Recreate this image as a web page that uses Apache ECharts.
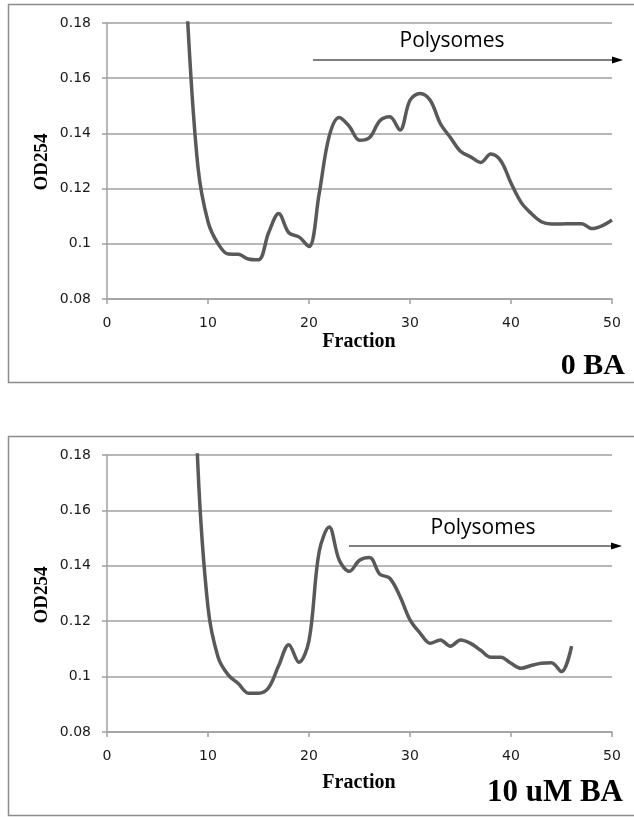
<!DOCTYPE html>
<html>
<head>
<meta charset="utf-8">
<script src="https://cdn.jsdelivr.net/npm/echarts@6/dist/echarts.min.js"></script>
<style>
  html, body { margin: 0; padding: 0; background: #fff; }
  #chart { width: 634px; height: 817px; }
</style>
</head>
<body>
<div id="chart"></div>
<script>
// fraction numbers and OD254 readings
const fractionsTop = [7, 8, 9, 10, 11, 12, 13, 14, 15, 16, 17, 18, 19, 20, 21, 22, 23, 24, 25, 26, 27, 28, 29, 30,
  31, 32, 33, 34, 35, 36, 37, 38, 39, 40, 41, 42, 43, 44, 45, 46, 47, 48, 49, 50]
const od0BA = [0.26, 0.180, 0.128, 0.108, 0.100, 0.0963, 0.0962, 0.0945, 0.0942, 0.104, 0.111, 0.104, 0.1025, 0.099,
  0.118, 0.139, 0.1458, 0.1425, 0.1375, 0.1385, 0.1445, 0.146, 0.1412, 0.152, 0.1545, 0.152, 0.1436, 0.1385, 0.1335,
  0.1315, 0.1295, 0.1325, 0.130, 0.122, 0.115, 0.111, 0.108, 0.1072, 0.1072, 0.1073, 0.1073, 0.1055, 0.1065, 0.1086]

const fractionsBottom = [8, 9, 10, 11, 12, 13, 14, 15, 16, 17, 18, 19, 20, 21, 22, 23, 24, 25, 26, 27, 28, 29, 30,
  31, 32, 33, 34, 35, 36, 37, 38, 39, 40, 41, 42, 43, 44, 45, 46]
const od10BA = [0.29, 0.176, 0.125, 0.107, 0.1006, 0.0975, 0.094, 0.094, 0.096, 0.104, 0.1115, 0.1052, 0.113, 0.145,
  0.154, 0.142, 0.138, 0.142, 0.143, 0.137, 0.1355, 0.129, 0.1205, 0.1157, 0.112, 0.1132, 0.111, 0.1132, 0.112,
  0.1095, 0.107, 0.107, 0.1048, 0.103, 0.104, 0.1048, 0.105, 0.1018, 0.111]

const xTicks = { min: 0, max: 50, step: 10 }
const yTicks = { min: 0.08, max: 0.18, step: 0.02 }

const serif = '"Liberation Serif", "DejaVu Serif", serif'
const sans = '"DejaVu Sans", sans-serif'

function pairs(xs, ys) { return xs.map((x, i) => [x, ys[i]]) }

function xAxis(gridIndex) {
  return {
    type: 'value', gridIndex,
    min: xTicks.min, max: xTicks.max, interval: xTicks.step,
    axisLine: { lineStyle: { color: '#a0a0a0', width: 1.5 } },
    axisTick: { show: true, length: 5, lineStyle: { color: '#a0a0a0', width: 1.5 } },
    axisLabel: { color: '#1a1a1a', fontSize: 14, fontFamily: sans, margin: 17 },
    splitLine: { show: false },
  }
}

function yAxis(gridIndex) {
  return {
    type: 'value', gridIndex,
    min: yTicks.min, max: yTicks.max, interval: yTicks.step,
    axisLine: { show: true, lineStyle: { color: '#a0a0a0', width: 1.5 } },
    axisTick: { show: true, length: 5, lineStyle: { color: '#a0a0a0', width: 1.5 } },
    axisLabel: { color: '#1a1a1a', fontSize: 14, fontFamily: sans, margin: 16,
      formatter: v => String(+v.toFixed(2)) },
    splitLine: { show: true, lineStyle: { color: '#a0a0a0', width: 1.5 } },
  }
}

function profile(idx, data) {
  return {
    type: 'line', xAxisIndex: idx, yAxisIndex: idx,
    data, smooth: 0.35, showSymbol: false, clip: true,
    lineStyle: { color: '#595959', width: 3.5 },
  }
}

function arrow(x1, x2, y) {
  return [
    { type: 'line', shape: { x1, y1: y, x2: x2 - 9, y2: y }, style: { stroke: '#000', lineWidth: 1.2 } },
    { type: 'polygon', shape: { points: [[x2 - 11, y - 3.5], [x2, y], [x2 - 11, y + 3.5]] }, style: { fill: '#000' } },
  ]
}

function label(text, x, y, font, size, opts = {}) {
  return {
    type: 'text', x, y, rotation: opts.rotation || 0,
    style: { text, font: `${opts.weight || 'bold'} ${size}px ${font}`, fill: '#000',
      align: opts.align || 'center', verticalAlign: 'middle' },
  }
}

const chart = echarts.init(document.getElementById('chart'))
chart.setOption({
  backgroundColor: '#fff',
  animation: false,
  grid: [
    { left: 107, right: 22, top: 23, height: 276 },
    { left: 107, right: 22, top: 455, height: 277 },
  ],
  xAxis: [xAxis(0), xAxis(1)],
  yAxis: [yAxis(0), yAxis(1)],
  series: [profile(0, pairs(fractionsTop, od0BA)), profile(1, pairs(fractionsBottom, od10BA))],
  graphic: [
    { type: 'rect', shape: { x: 8.5, y: 4.5, width: 640, height: 378 }, style: { fill: null, stroke: '#8c8c8c', lineWidth: 1.5 } },
    { type: 'rect', shape: { x: 8.5, y: 436.5, width: 640, height: 379 }, style: { fill: null, stroke: '#8c8c8c', lineWidth: 1.5 } },
    label('OD254', 42, 162, serif, 19, { rotation: Math.PI / 2 }),
    label('OD254', 42, 595, serif, 19, { rotation: Math.PI / 2 }),
    label('Fraction', 359, 342, serif, 20),
    label('Fraction', 359, 783, serif, 20),
    label('0 BA', 625, 366, serif, 30, { align: 'right' }),
    label('10 uM BA', 623, 793, serif, 31, { align: 'right' }),
    label('Polysomes', 452, 41, '"Open Sans", sans-serif', 21, { weight: 'normal' }),
    label('Polysomes', 483, 528, '"Open Sans", sans-serif', 21, { weight: 'normal' }),
    ...arrow(313, 623, 60),
    ...arrow(349, 622, 546),
  ],
})
</script>
</body>
</html>
